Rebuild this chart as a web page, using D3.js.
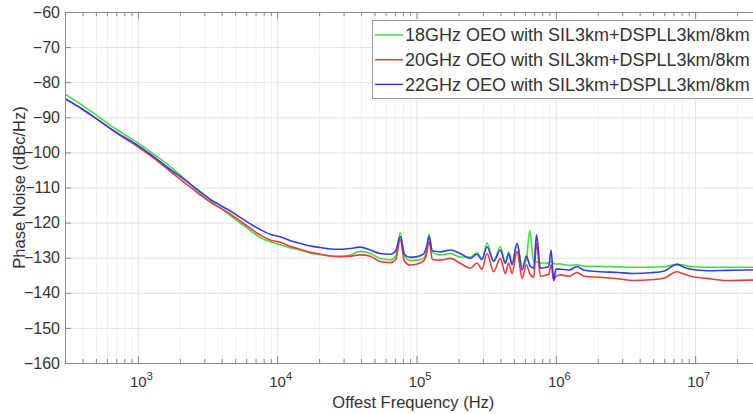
<!DOCTYPE html>
<html lang="en">
<head>
    <meta charset="UTF-8">
    <title>Phase Noise</title>
    <script src="https://cdnjs.cloudflare.com/ajax/libs/d3/7.8.5/d3.min.js"></script>
    <style>
        body { margin: 0; background: #fff; }
        text { font-family: "Liberation Sans", Arial, Helvetica, sans-serif; fill: #333; }
    </style>
</head>
<body>
    <div id="chart"></div>
    <script>
        // offset frequency (Hz), shared by all three traces
        const freq = [300, 400, 500, 700, 1000, 1300, 1700, 2200, 2800, 3500, 4300, 5100, 6200, 7500, 9000,
            10500, 12500, 14600, 17000, 20400, 24000, 28400, 33000, 39500, 46600, 55000, 65000, 71000, 76500,
            82000, 90000, 101000, 112000, 118000, 123000, 130000, 148000, 175000, 206000, 244000, 272000, 295000,
            321000, 358000, 400000, 434000, 459000, 485000, 527000, 573000, 615000, 650000, 695000, 727000,
            776000, 843000, 890000, 925000, 966000, 1e6, 1.08e6, 1.25e6, 1.42e6, 1.6e6, 2.09e6, 2.8e6, 3.6e6,
            4.8e6, 6e6, 7.4e6, 8.2e6, 9.3e6, 1.22e7, 1.7e7, 2.5e7, 3e7]

        // phase noise (dBc/Hz)
        const pn18 = [-83.4, -86.6, -89.3, -93.4, -97.3, -100.5, -104.0, -107.8, -111.6, -114.5, -117.0, -119.3,
            -121.8, -124.2, -125.5, -126.3, -127.2, -127.8, -128.6, -129.1, -129.5, -129.6, -129.3, -128.2,
            -128.8, -130.2, -130.6, -129.5, -122.8, -129.5, -130.8, -130.7, -130.2, -128.0, -123.3, -128.5,
            -129.2, -128.8, -129.8, -129.8, -128.5, -130.5, -125.8, -131.0, -126.9, -131.5, -128.4, -131.5,
            -126.0, -132.5, -130.5, -122.3, -131.2, -131.2, -131.5, -131.5, -131.6, -131.0, -131.6, -131.8,
            -131.8, -132.2, -132.0, -132.4, -132.5, -132.6, -132.7, -132.7, -132.6, -131.9, -132.1, -132.5,
            -132.7, -132.7, -132.7, -132.7]
        const pn20 = [-84.7, -87.7, -90.3, -94.4, -98.4, -101.6, -105.3, -108.8, -112.1, -114.8, -116.8, -118.8,
            -121.2, -123.5, -125.0, -125.6, -126.8, -127.6, -128.4, -129.0, -129.5, -129.7, -129.6, -129.2,
            -129.6, -131.1, -131.4, -130.5, -124.8, -131.0, -132.1, -131.8, -131.0, -129.0, -125.4, -130.5,
            -130.7, -130.2, -131.6, -133.0, -131.5, -133.3, -128.8, -134.0, -130.2, -134.5, -131.5, -134.5,
            -128.2, -135.9, -132.0, -134.5, -135.5, -125.9, -135.2, -135.0, -134.8, -132.0, -136.5, -135.3,
            -134.9, -135.3, -134.2, -135.3, -135.6, -136.0, -136.5, -136.3, -135.8, -134.0, -134.6, -135.3,
            -135.9, -136.5, -136.4, -136.4]
        const pn22 = [-84.7, -87.7, -90.3, -94.3, -98.0, -101.2, -104.8, -108.0, -111.2, -114.0, -116.0, -117.8,
            -120.0, -121.9, -123.4, -124.0, -125.2, -125.9, -126.6, -127.1, -127.5, -127.6, -127.4, -127.0,
            -127.8, -128.8, -129.0, -128.0, -124.0, -129.0, -129.9, -129.7, -129.0, -127.0, -124.0, -128.0,
            -128.3, -127.8, -128.8, -130.2, -129.0, -130.5, -126.9, -131.0, -127.8, -131.6, -128.8, -132.0,
            -125.9, -133.5, -129.5, -132.2, -133.0, -123.5, -133.0, -132.8, -132.5, -127.8, -136.4, -133.2,
            -133.3, -133.5, -132.5, -133.6, -134.0, -134.2, -134.5, -134.3, -133.8, -131.9, -132.6, -133.3,
            -133.7, -133.6, -133.5, -133.5]

        const seriesNames = ['18GHz OEO with SIL3km+DSPLL3km/8km', '20GHz OEO with SIL3km+DSPLL3km/8km',
            '22GHz OEO with SIL3km+DSPLL3km/8km']
        const yTicks = [-60, -70, -80, -90, -100, -110, -120, -130, -140, -150, -160]
        const xTicks = [1e3, 1e4, 1e5, 1e6, 1e7]

        const colors = ['#3ee03e', '#f03a3a', '#3a3ae8']

        //尺寸
        const width = 753, height = 414
        const margin = { left: 65, top: 12, right: 761.6, bottom: 363 }

        const svg = d3.select('#chart').append('svg')
            .attr('width', width)
            .attr('height', height)

        const x = d3.scaleLog().domain([300, 3e7]).range([margin.left, margin.right])
        const y = d3.scaleLinear().domain([-160, -60]).range([margin.bottom, margin.top])

        // minor tick values 2..9 x decade
        const minor = []
        for (let e = 2; e <= 7; e++) {
            for (let m = 2; m < 10; m++) {
                const v = m * Math.pow(10, e)
                if (v >= 300 && v <= 3e7) minor.push(v)
            }
        }

        const plotH = margin.bottom - margin.top
        const plotW = margin.right - margin.left

        // grid
        svg.append('g')
            .attr('transform', `translate(0,${margin.bottom})`)
            .call(d3.axisBottom(x).tickValues(minor).tickSize(-plotH).tickFormat(''))
            .call(g => g.select('.domain').remove())
            .call(g => g.selectAll('line').attr('stroke', '#f1f1f1'))
        svg.append('g')
            .attr('transform', `translate(0,${margin.bottom})`)
            .call(d3.axisBottom(x).tickValues(xTicks).tickSize(-plotH).tickFormat(''))
            .call(g => g.select('.domain').remove())
            .call(g => g.selectAll('line').attr('stroke', '#e2e2e2'))
        svg.append('g')
            .attr('transform', `translate(${margin.left},0)`)
            .call(d3.axisLeft(y).tickValues(yTicks).tickSize(-plotW).tickFormat(''))
            .call(g => g.select('.domain').remove())
            .call(g => g.selectAll('line').attr('stroke', '#e2e2e2'))

        // lines
        const line = d3.line()
            .x((d, i) => x(freq[i]))
            .y(d => y(d))
            .curve(d3.curveMonotoneX)

        svg.append('defs').append('clipPath').attr('id', 'clip')
            .append('rect')
            .attr('x', margin.left).attr('y', margin.top)
            .attr('width', plotW).attr('height', plotH)

        const series = [pn18, pn20, pn22]
        svg.append('g').attr('clip-path', 'url(#clip)')
            .selectAll('path')
            .data(series)
            .enter()
            .append('path')
            .attr('d', d => line(d))
            .attr('fill', 'none')
            .attr('stroke', (d, i) => colors[i])
            .attr('stroke-width', 1.6)
            .attr('stroke-linejoin', 'round')

        // axes (ticks inward)
        const axisColor = '#8a8a8a'
        const styleAxis = g => {
            g.select('.domain').attr('stroke', axisColor)
            g.selectAll('line').attr('stroke', axisColor)
        }

        const yAxis = svg.append('g')
            .attr('transform', `translate(${margin.left},0)`)
            .call(d3.axisLeft(y).tickValues(yTicks).tickSizeInner(-6).tickSizeOuter(0).tickPadding(5))
            .call(styleAxis)
        yAxis.selectAll('text').attr('font-size', 16).style('fill', '#333')

        // bottom minor + major
        svg.append('g')
            .attr('transform', `translate(0,${margin.bottom})`)
            .call(d3.axisBottom(x).tickValues(minor).tickSize(-4).tickFormat(''))
            .call(styleAxis)
        const xAxis = svg.append('g')
            .attr('transform', `translate(0,${margin.bottom})`)
            .call(d3.axisBottom(x).tickValues(xTicks).tickSizeInner(-7).tickSizeOuter(0).tickPadding(13))
            .call(styleAxis)
        xAxis.selectAll('text')
            .attr('font-size', 15)
            .style('fill', '#333')
            .text('')
            .each(function (d) {
                const t = d3.select(this)
                t.append('tspan').text('10')
                t.append('tspan').text(Math.round(Math.log10(d)))
                    .attr('font-size', 11)
                    .attr('dy', -7)
            })
            .attr('dx', 3)

        // top minor + major
        svg.append('g')
            .attr('transform', `translate(0,${margin.top})`)
            .call(d3.axisTop(x).tickValues(minor).tickSize(-4).tickFormat(''))
            .call(styleAxis)
        svg.append('g')
            .attr('transform', `translate(0,${margin.top})`)
            .call(d3.axisTop(x).tickValues(xTicks).tickSize(-7).tickFormat(''))
            .call(styleAxis)

        // axis titles
        svg.append('text')
            .attr('x', (margin.left + margin.right) / 2)
            .attr('y', 408)
            .attr('text-anchor', 'middle')
            .attr('font-size', 16.5)
            .text('Offest Frequency (Hz)')
        svg.append('text')
            .attr('transform', `translate(25,${(margin.top + margin.bottom) / 2}) rotate(-90)`)
            .attr('text-anchor', 'middle')
            .attr('font-size', 16.5)
            .text('Phase Noise (dBc/Hz)')

        // legend
        const legend = svg.append('g')
        legend.append('rect')
            .attr('x', 372.5).attr('y', 20.5)
            .attr('width', 400).attr('height', 78)
            .attr('fill', '#fff')
            .attr('stroke', '#9a9a9a')
        seriesNames.forEach((name, i) => {
            const ly = 35 + i * 24.7
            legend.append('line')
                .attr('x1', 375).attr('x2', 403)
                .attr('y1', ly).attr('y2', ly)
                .attr('stroke', colors[i])
                .attr('stroke-width', 1.5)
            legend.append('text')
                .attr('x', 405).attr('y', ly + 6.3)
                .attr('font-size', 18)
                .text(name)
        })
    </script>
</body>
</html>
